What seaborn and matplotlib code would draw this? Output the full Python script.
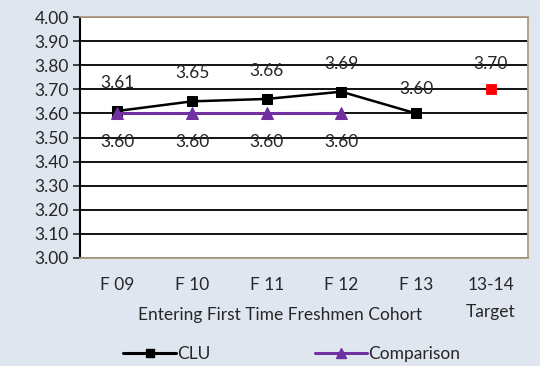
import seaborn as sns
import pandas as pd
import matplotlib.pyplot as plt
from matplotlib.ticker import FormatStrFormatter

cohorts = ["F 09", "F 10", "F 11", "F 12", "F 13"]
clu = [3.61, 3.65, 3.66, 3.69, 3.60]
comp_cohorts = ["F 09", "F 10", "F 11", "F 12"]
comparison = [3.60, 3.60, 3.60, 3.60]
target_label = "13-14\nTarget"
target = [3.70]

sns.set_style("white")
plt.rcParams["font.family"] = ["Lato", "DejaVu Sans"]

bg = "#dfe6f0"
fs = 12.5
fig = plt.figure(figsize=(5.4, 3.66), dpi=100, facecolor=bg)
ax = fig.add_axes([80 / 540, 1 - 258 / 366, 448 / 540, 241 / 366])
ax.set_facecolor("white")

clu_df = pd.DataFrame({"cohort": cohorts, "gpa": clu})
comp_df = pd.DataFrame({"cohort": comp_cohorts, "gpa": comparison})
tgt_df = pd.DataFrame({"cohort": [target_label], "gpa": target})

sns.lineplot(data=clu_df, x="cohort", y="gpa", ax=ax, color="black", lw=1.8,
             marker="s", markersize=7, markeredgecolor="black", zorder=4)
sns.lineplot(data=comp_df, x="cohort", y="gpa", ax=ax, color="#7030a0", lw=2.2,
             marker="^", markersize=8, markeredgecolor="#7030a0", zorder=5)
sns.scatterplot(data=tgt_df, x="cohort", y="gpa", ax=ax, color="red", marker="s",
                s=55, edgecolor="red", zorder=5)

# data labels
for i, v in enumerate(clu):
    off = 0.1 if i == len(clu) - 1 else 0.117
    ax.text(i, v + off, f"{v:.2f}", ha="center", va="center", fontsize=fs)
for i, v in enumerate(comparison):
    ax.text(i, v - 0.12, f"{v:.2f}", ha="center", va="center", fontsize=fs)
ax.text(5, target[0] + 0.107, f"{target[0]:.2f}", ha="center", va="center", fontsize=fs)

ax.set_ylim(3.0, 4.0)
ax.set_xlim(-0.5, 5.5)
ax.set_yticks([3.0 + 0.1 * k for k in range(11)])
ax.yaxis.set_major_formatter(FormatStrFormatter("%.2f"))
ax.grid(axis="y", color="black", lw=1.3)
ax.set_axisbelow(True)
ax.tick_params(axis="y", which="both", left=True, length=5, width=1.2, labelsize=fs, pad=3)
ax.tick_params(axis="x", length=0, labelsize=fs, pad=14)
for lbl in ax.get_xticklabels():
    lbl.set_linespacing(1.85)
ax.set_xlabel("")
ax.set_ylabel("")
for s in ["top", "right", "bottom"]:
    ax.spines[s].set_color("#b09a80")
    ax.spines[s].set_linewidth(1.3)
ax.spines["left"].set_color("black")
ax.spines["left"].set_linewidth(1.5)

fig.text(280 / 540, 1 - 315 / 366, "Entering First Time Freshmen Cohort",
         ha="center", va="center", fontsize=fs)

handles = [
    plt.Line2D([], [], color="black", lw=2.2, marker="s", markersize=6),
    plt.Line2D([], [], color="#7030a0", lw=2.2, marker="^", markersize=7),
]
fig.legend(handles, ["CLU", "Comparison"], loc="center", bbox_to_anchor=(292 / 540, 1 - 354 / 366),
           ncol=2, frameon=False, fontsize=fs, handlelength=3.0, handletextpad=0.1,
           columnspacing=6)

fig.savefig("out.png", dpi=100, facecolor=bg)
